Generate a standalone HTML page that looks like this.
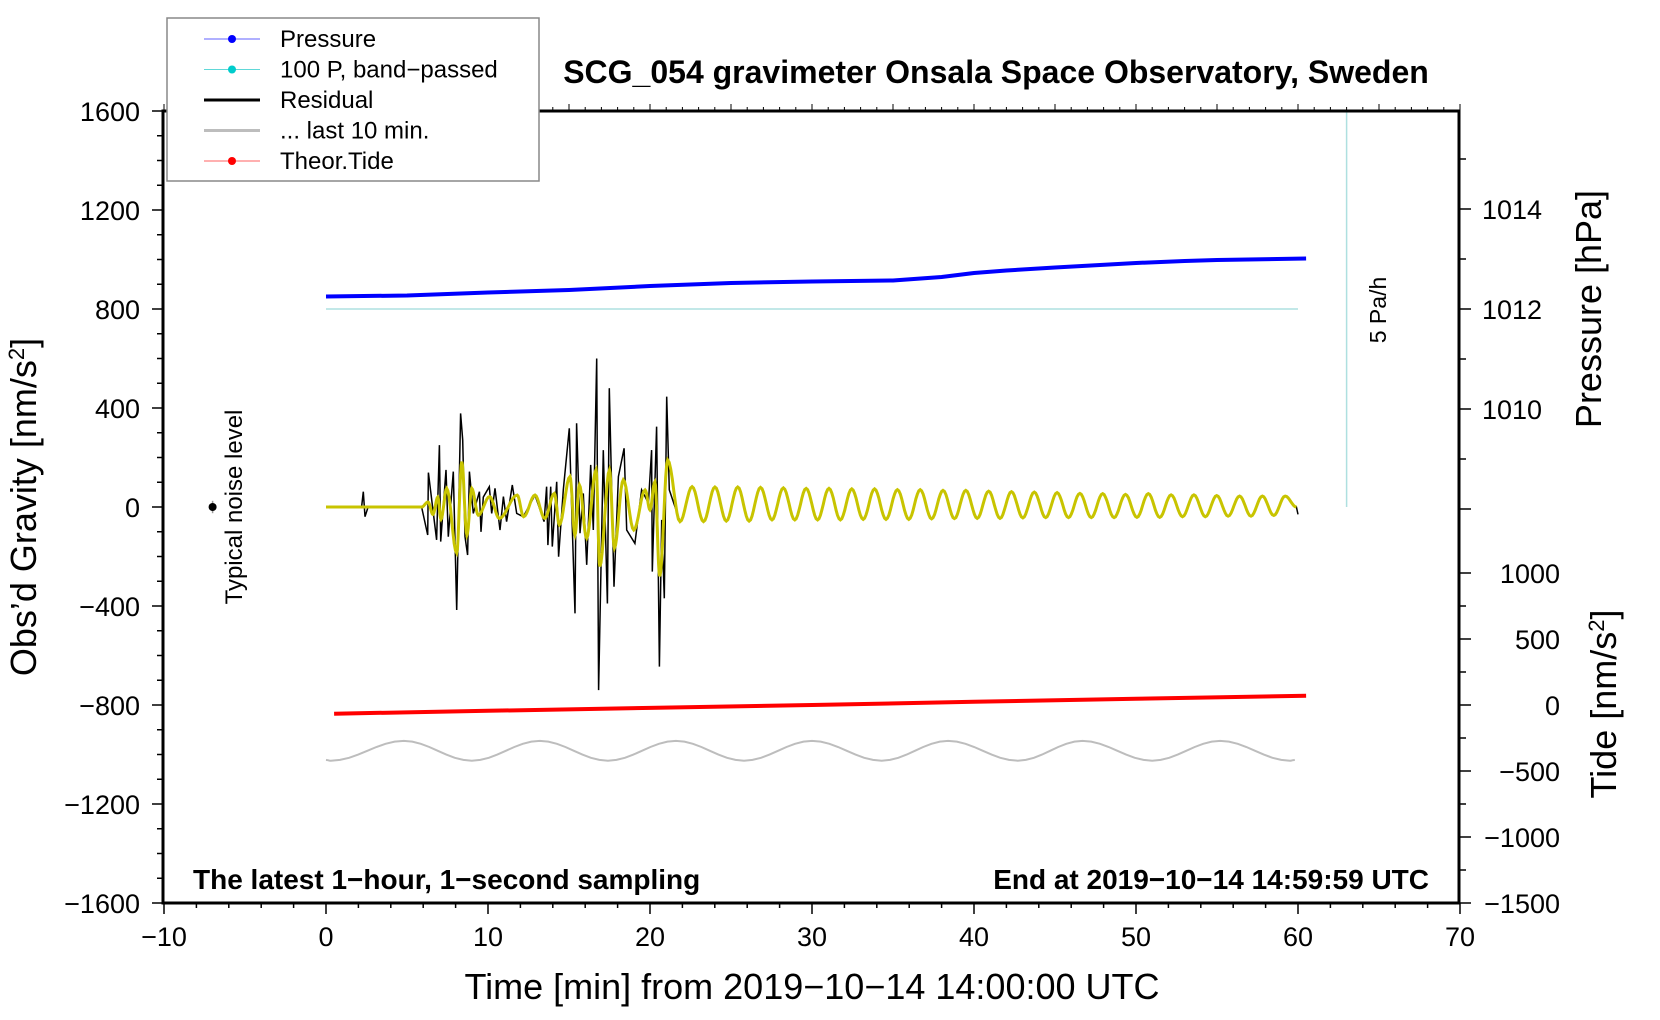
<!DOCTYPE html>
<html><head><meta charset="utf-8"><style>
html,body{margin:0;padding:0;background:#fff;}
svg{display:block;font-family:"Liberation Sans",Arial,sans-serif;}
</style></head><body>
<svg id="chart" width="1660" height="1020" viewBox="0 0 1660 1020">
<g id="marks"></g>
<g id="axes"></g>
</svg>
<script>
// ---- data ----
const xTicks = [-10,0,10,20,30,40,50,60,70];
const yTicks = [1600,1200,800,400,0,-400,-800,-1200,-1600];
const pTicks = [1010,1012,1014];
const tideTicks = [1000,500,0,-500,-1000,-1500];
const pressT = [0,5,10,15,20,25,30,35,38,40,42,45,50,53,55,60.5];
const pressV = [1012.25,1012.27,1012.33,1012.38,1012.46,1012.52,1012.55,1012.57,1012.64,1012.72,1012.77,1012.83,1012.92,1012.96,1012.98,1013.01];
const tideT = [0.5,10,20,30,40,50,60.5];
const tideV = [-66,-44,-22,0,24,47,70];
const greyT = [0,0.3,4.8,9.0,13.2,17.4,21.6,25.8,30.0,34.3,38.4,42.7,46.7,51.0,55.2,59.5,59.8];
const greyV = [-1022,-1025,-945,-1025,-945,-1025,-945,-1025,-945,-1025,-945,-1025,-945,-1025,-945,-1025,-1022];
const resT = [0,2.2,2.3,2.41,2.6,5.9,6.28,6.32,6.83,7.0,7.08,7.41,7.55,7.86,8.07,8.31,8.44,8.58,8.74,8.85,9.09,9.47,9.57,9.71,10.08,10.23,10.43,10.74,10.95,11.15,11.5,11.77,12.18,12.9,13.46,13.62,13.7,13.87,13.97,14.24,14.36,14.65,15.02,15.19,15.37,15.47,15.68,15.88,16.09,16.34,16.5,16.71,16.83,17.12,17.37,17.49,17.78,18.05,18.4,18.56,19.07,19.48,19.9,20.1,20.14,20.31,20.41,20.58,20.72,20.88,21.03,21.19];
const resV = [0,0,62,-39,0,0,-113,139,-133,250,-140,150,-120,143,-416,378,271,-120,-194,143,-26,62,-100,40,82,-26,75,-93,42,-59,89,-26,-39,48,-59,82,-154,82,-160,102,-201,69,318,-59,-430,338,-106,55,-234,170,-93,600,-740,230,-390,480,-322,123,237,-93,-147,69,16,230,-261,110,325,-645,-52,-369,446,69];
const yelT = [0,5.9,6.3,6.6,6.9,7.1,7.45,8.07,8.38,8.7,9.0,9.4,10.1,10.7,11.8,12.2,12.9,13.5,14.1,14.4,15.06,15.37,15.64,16.09,16.67,16.9,17.5,17.8,18.35,19.0,19.7,20.0,20.3,20.6,21.09,21.85];
const yelV = [0,0,20,-30,40,-50,75,-186,183,-113,75,-33,42,-46,48,-39,48,-46,55,-72,123,-113,89,-126,150,-240,150,-166,110,-93,69,-12,102,-280,190,-59];
const waveStart = 22.6, wavePeriod = 1.408;
const wavePeaks = [82,81,81,79,77,75,75,73,73,70,70,67,67,64,62,60,58,55,54,51,54,49,49,46,44,44,44];
const waveTroughs = [-59,-57,-57,-52,-52,-52,-52,-50,-50,-50,-48,-47,-46,-46,-44,-43,-43,-43,-43,-42,-42,-39,-39,-37,-37,-34];

// ---- scales ----
const X = t => 326 + 16.2*t;
const Y = g => 507 - 0.2475*g;
const YP = p => 309 - 50*(p-1012);
const YT = v => 705 - 0.132*v;
const NS = 'http://www.w3.org/2000/svg';
const marks = document.getElementById('marks');
const axes = document.getElementById('axes');
function mk(tag, attrs, parent){ const e=document.createElementNS(NS,tag); for(const k in attrs) e.setAttribute(k,attrs[k]); (parent||marks).appendChild(e); return e; }
function linePath(ts,vs,fy){ return ts.map((t,i)=>(i?'L':'M')+X(t).toFixed(1)+' '+fy(vs[i]).toFixed(1)).join(' '); }
function cosPath(ts,vs,fy,start){ let d=start?'':'M'+X(ts[0]).toFixed(1)+' '+fy(vs[0]).toFixed(1);
  for(let i=1;i<ts.length;i++){ for(let s=1;s<=8;s++){ const f=s/8, w=(1-Math.cos(Math.PI*f))/2;
    const t=ts[i-1]+(ts[i]-ts[i-1])*f, v=vs[i-1]+(vs[i]-vs[i-1])*w; d+=' L'+X(t).toFixed(1)+' '+fy(v).toFixed(1);} } return d; }
const waveT=[], waveV=[];
for(let k=0;k<wavePeaks.length;k++){ waveT.push(waveStart+wavePeriod*k); waveV.push(wavePeaks[k]);
  if(k<waveTroughs.length){ waveT.push(waveStart+wavePeriod*(k+0.5)); waveV.push(waveTroughs[k]); } }
waveT.push(59.9); waveV.push(0);

let e;
e=mk('line',{x1:X(0),x2:X(60),y1:Y(800),y2:Y(800),stroke:'#aee0e0','stroke-width':1.5});
 
e=mk('line',{x1:X(63),x2:X(63),y1:111,y2:Y(0),stroke:'#aee0e0','stroke-width':1.5});
 
e=mk('path',{d:linePath(pressT,pressV,YP),fill:'none',stroke:'#0000ff','stroke-width':4,'stroke-linejoin':'round'});
 
e=mk('path',{d:linePath(tideT,tideV,YT),fill:'none',stroke:'#ff0000','stroke-width':4});
 
e=mk('path',{d:cosPath(greyT,greyV,Y),fill:'none',stroke:'#bdbdbd','stroke-width':2});
 
const lastYT=yelT[yelT.length-1], lastYV=yelV[yelV.length-1];
let dres=linePath(resT,resV,Y)+' L'+X(lastYT).toFixed(1)+' '+Y(lastYV).toFixed(1)+cosPath([lastYT].concat(waveT),[lastYV].concat(waveV),Y,true);
e=mk('path',{d:dres+' L'+X(60).toFixed(1)+' '+Y(-30).toFixed(1),fill:'none',stroke:'#000','stroke-width':1.5});
 
e=mk('path',{d:cosPath(yelT.concat(waveT),yelV.concat(waveV),Y),fill:'none',stroke:'#c8c400','stroke-width':3});
 
e=mk('line',{x1:X(-7),x2:X(-7),y1:Y(25),y2:Y(-25),stroke:'#999','stroke-width':1.5});
 
e=mk('circle',{cx:X(-7),cy:Y(0),r:4,fill:'#000'});
 

// ---- axes ----
function tick(x1,y1,x2,y2,w){ const t=mk('line',{x1,y1,x2,y2,stroke:'#000','stroke-width':w||1.5},axes);   }
function txt(x,y,s,attrs,name){ const t=mk('text',Object.assign({x,y},attrs),axes); t.textContent=s;   return t; }
e=mk('rect',{x:163,y:111,width:1296,height:792,fill:'none',stroke:'#000','stroke-width':3},axes);
 
for(let t=-10;t<=70;t+=2) tick(X(t),903,X(t),t%10===0?914:908);
for(let t=-10;t<=70;t+=1) tick(X(t),111,X(t),t%5===0?104:107,1);
xTicks.forEach(t=>txt(X(t),946,String(t).replace('-','\u2212'),{'font-size':27,'text-anchor':'middle'},'x-tick-label'));
for(let g=-1600;g<=1600;g+=100) tick(163,Y(g),g%400===0?152:157,Y(g));
yTicks.forEach(g=>txt(140,Y(g)+10,String(g).replace('-','\u2212'),{'font-size':27,'text-anchor':'end'},'y-tick-label'));
for(let p=1008;p<=1015;p+=1) tick(1459,YP(p),p%2===0?1471:1466,YP(p));
pTicks.forEach(p=>txt(1482,YP(p)+10,String(p),{'font-size':27},'pressure-tick-label'));
for(let v=-1500;v<=1000;v+=250) tick(1459,YT(v),v%500===0?1471:1466,YT(v));
tideTicks.forEach(v=>txt(1560,YT(v)+10,String(v).replace('-','\u2212'),{'font-size':27,'text-anchor':'end'},'tide-tick-label'));
txt(812,999,'Time [min] from 2019\u221210\u221214 14:00:00 UTC',{'font-size':36,'text-anchor':'middle'},'x-axis-title');
let ly=txt(0,0,'',{'font-size':36,'text-anchor':'middle',transform:'translate(36,507) rotate(-90)'},'y-axis-title');
ly.innerHTML='Obs\u2019d Gravity [nm/s<tspan baseline-shift="super" font-size="22">2</tspan>]';
txt(0,0,'Pressure [hPa]',{'font-size':36,'text-anchor':'middle',transform:'translate(1601,309) rotate(-90)'},'pressure-axis-title');
let lt=txt(0,0,'',{'font-size':36,'text-anchor':'middle',transform:'translate(1616,704) rotate(-90)'},'tide-axis-title');
lt.innerHTML='Tide [nm/s<tspan baseline-shift="super" font-size="22">2</tspan>]';
txt(996,83,'SCG_054 gravimeter Onsala Space Observatory, Sweden',{'font-size':32,'font-weight':'bold','text-anchor':'middle'},'chart-title');
txt(193,889,'The latest 1\u2212hour, 1\u2212second sampling',{'font-size':28,'font-weight':'bold'},'sampling-note');
txt(1429,889,'End at 2019\u221210\u221214 14:59:59 UTC',{'font-size':28,'font-weight':'bold','text-anchor':'end'},'end-time-note');
txt(0,0,'Typical noise level',{'font-size':24,'text-anchor':'middle',transform:'translate(242,507) rotate(-90)'},'noise-level-label');
txt(0,0,'5 Pa/h',{'font-size':23,'text-anchor':'middle',transform:'translate(1386,310) rotate(-90)'},'scale-bar-label');

// ---- legend ----
const lg=mk('g',{},axes);  
e=mk('rect',{x:167,y:18,width:372,height:163,fill:'#fff',stroke:'#888','stroke-width':1.5},lg);
 
const legLabels=['Pressure','100 P, band\u2212passed','Residual','... last 10 min.','Theor.Tide'];
const legColors=['#0000ff','#00cccc','#000','#bdbdbd','#ff0000'];
const legThin=['#6060ff','#60d8d8','#000','#bdbdbd','#ff6060'];
legLabels.forEach((s,i)=>{ const yy=39+30.5*i;
  const g=mk('g',{},lg);  
  const thick=(i===2||i===3);
  e=mk('line',{x1:204,x2:260,y1:yy,y2:yy,stroke:legThin[i],'stroke-width':thick?3:1},g);
   
  if(!thick){ e=mk('circle',{cx:232,cy:yy,r:4,fill:legColors[i]},g);   }
  e=mk('text',{x:280,y:yy+8,'font-size':24},g); e.textContent=s;
   
});
</script>
</body></html>
